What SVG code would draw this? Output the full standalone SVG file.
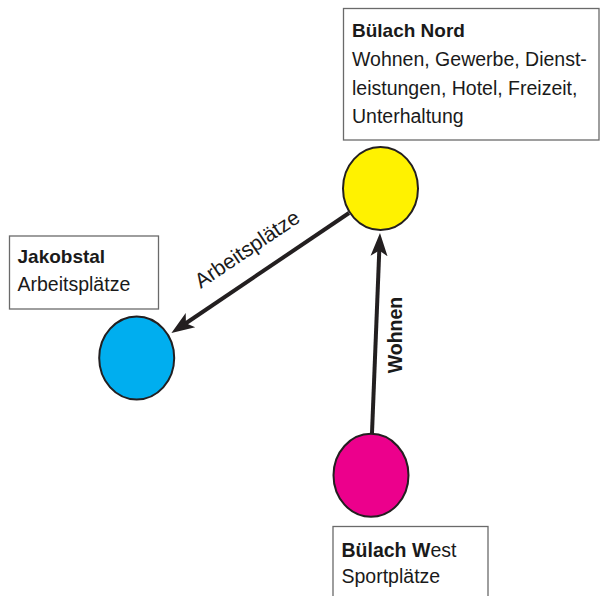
<svg xmlns="http://www.w3.org/2000/svg" width="600" height="596" viewBox="0 0 600 596">
<style>
.box{fill:#fff;stroke:#6a6a6a;stroke-width:1.3}
.t{font-family:"Liberation Sans",Arial,sans-serif;font-size:19.5px;fill:#1a1a1a}
.b{font-weight:bold}
.h{font-size:19px}
.node{stroke:#231f20;stroke-width:2}
.edge{fill:none;stroke:#231f20;stroke-width:4}
</style>
<defs>
<marker id="ah" markerUnits="userSpaceOnUse" markerWidth="26" markerHeight="22" viewBox="0 -11 26 22" refX="6" refY="0" orient="auto">
<path d="M0,-8.5 L23,0 L0,8.5 L5.5,0 Z" fill="#231f20"/>
</marker>
</defs>
<rect width="600" height="596" fill="#fff"/>
<g id="edges">
<line class="edge" x1="349" y1="213" x2="185.5" y2="323.5" marker-end="url(#ah)"/>
<line class="edge" x1="372" y1="433" x2="379.3" y2="250" marker-end="url(#ah)"/>
<text class="t" x="251" y="255" text-anchor="middle" style="font-size:21px" transform="rotate(-34 251 255)">Arbeitsplätze</text>
<text class="t b" x="401.5" y="335" text-anchor="middle" transform="rotate(-90 401.5 335)">Wohnen</text>
</g>
<g id="buelach-nord">
<rect class="box" x="343.5" y="8.5" width="255.5" height="131.5"/>
<text class="t b h" x="352" y="37">Bülach Nord</text>
<text class="t" x="352" y="66">Wohnen, Gewerbe, Dienst-</text>
<text class="t" x="352" y="94.5">leistungen, Hotel, Freizeit,</text>
<text class="t" x="352" y="122.5">Unterhaltung</text>
<ellipse class="node" cx="380.5" cy="188.5" rx="37.5" ry="41.5" fill="#fff200"/>
</g>
<g id="jakobstal">
<rect class="box" x="9.5" y="236" width="149" height="73"/>
<text class="t b h" x="17.5" y="263">Jakobstal</text>
<text class="t" x="17.5" y="291">Arbeitsplätze</text>
<ellipse class="node" cx="136.7" cy="358" rx="37.5" ry="41.5" fill="#00aeef"/>
</g>
<g id="buelach-west">
<ellipse class="node" cx="371" cy="475.3" rx="37.5" ry="41.5" fill="#ec008c"/>
<rect class="box" x="333" y="526.5" width="155" height="80"/>
<text class="t b" x="341.5" y="557">Bülach W</text>
<text class="t" x="430.5" y="557">est</text>
<text class="t" x="341.5" y="583">Sportplätze</text>
</g>
</svg>
